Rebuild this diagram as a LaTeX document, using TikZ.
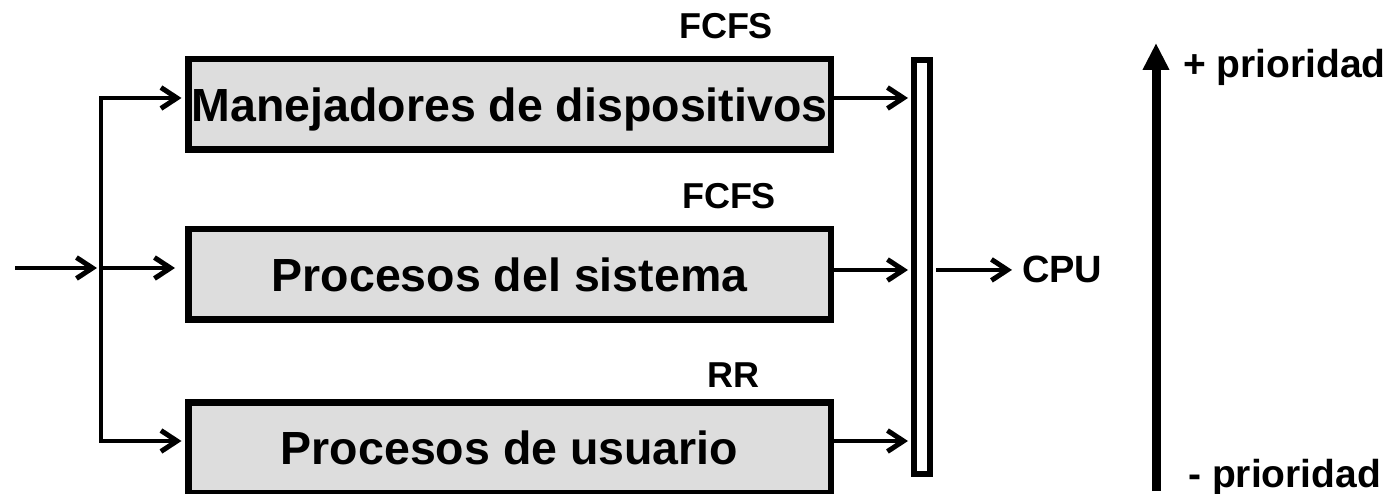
\documentclass[tikz,border=0pt]{standalone}
\usepackage{fontspec}
\setmainfont{Liberation Sans}
\usetikzlibrary{arrows.meta}
\begin{document}
\begin{tikzpicture}[x=1pt,y=-1pt,
  qbox/.style={draw=black, line width=6.5pt, fill={rgb,255:red,221;green,221;blue,221},
    minimum width=642.5pt, minimum height=90.5pt, inner sep=0pt,
    text height=33.3pt, text depth=0pt,
    font=\fontsize{46.5}{52}\selectfont\bfseries},
  busbar/.style={draw=black, line width=6pt, fill=white, minimum width=16pt,
    minimum height=414pt, inner sep=0pt},
  lbl/.style={inner sep=0pt, anchor=base, font=\fontsize{36}{40}\selectfont\bfseries},
  sidelbl/.style={inner sep=0pt, anchor=base west, font=\fontsize{39}{44}\selectfont\bfseries},
  conn/.style={line width=4pt},
  arr/.style={conn, -{Straight Barb[length=16pt,width=21pt,line width=5pt]}},
  darr/.style={conn, {Straight Barb[length=16pt,width=21pt,line width=5pt]}-{Straight Barb[length=16pt,width=21pt,line width=5pt]}},
  bigarr/.style={line width=9pt, -{Triangle[length=27pt,width=25pt]}}
]
\useasboundingbox (0,0) rectangle (1398,494);

% boxes
\node[qbox] (b1) at (509.5,104.5) {Manejadores de dispositivos};
\node[qbox] (b2) at (509.5,274.5) {Procesos del sistema};
\node[qbox] (b3) at (509.5,447.5) {Procesos de usuario};
\node[busbar] (bar) at (922,267) {};

% labels
\node[lbl] (l1) at (726,39) {FCFS};
\node[lbl] (l2) at (729,209) {FCFS};
\node[lbl] (l3) at (733,387) {RR};
\node[inner sep=0pt, anchor=base west, font=\fontsize{38}{42}\selectfont\bfseries] (cpu) at (1022,283) {CPU};
\node[sidelbl] (pmas) at (1183,78) {+ prioridad};
\node[sidelbl] (pmenos) at (1188,487) {- prioridad};

% coordinates
\coordinate (in) at (15,268);
\coordinate (j1) at (101,98);
\coordinate (j2) at (101,268);
\coordinate (j3) at (101,441);
\coordinate (o1) at (834,98);
\coordinate (o2) at (834,270);
\coordinate (o3) at (834,441);
\coordinate (ptop) at (1156,43);
\coordinate (pbot) at (1156,491);

% input side
\draw[arr, shorten >=4pt] (in) -- (j2);
\draw[darr, shorten <=3.5pt, shorten >=3.5pt] (j1 -| b1.west) -- (j1) -- (j3) -- (j3 -| b3.west);
\draw[arr, shorten >=10pt] (j2) -- (j2 -| b2.west);

% outputs to bus
\draw[arr, shorten >=3pt] (o1) -- (o1 -| bar.west);
\draw[arr, shorten >=3pt] (o2) -- (o2 -| bar.west);
\draw[arr, shorten >=3pt] (o3) -- (o3 -| bar.west);

% bus to CPU
\draw[arr, shorten <=3pt, shorten >=10pt] (bar.east |- cpu.west) -- (cpu.west);

% priority arrow
\draw[bigarr] (pbot) -- (ptop);
\end{tikzpicture}
\end{document}
